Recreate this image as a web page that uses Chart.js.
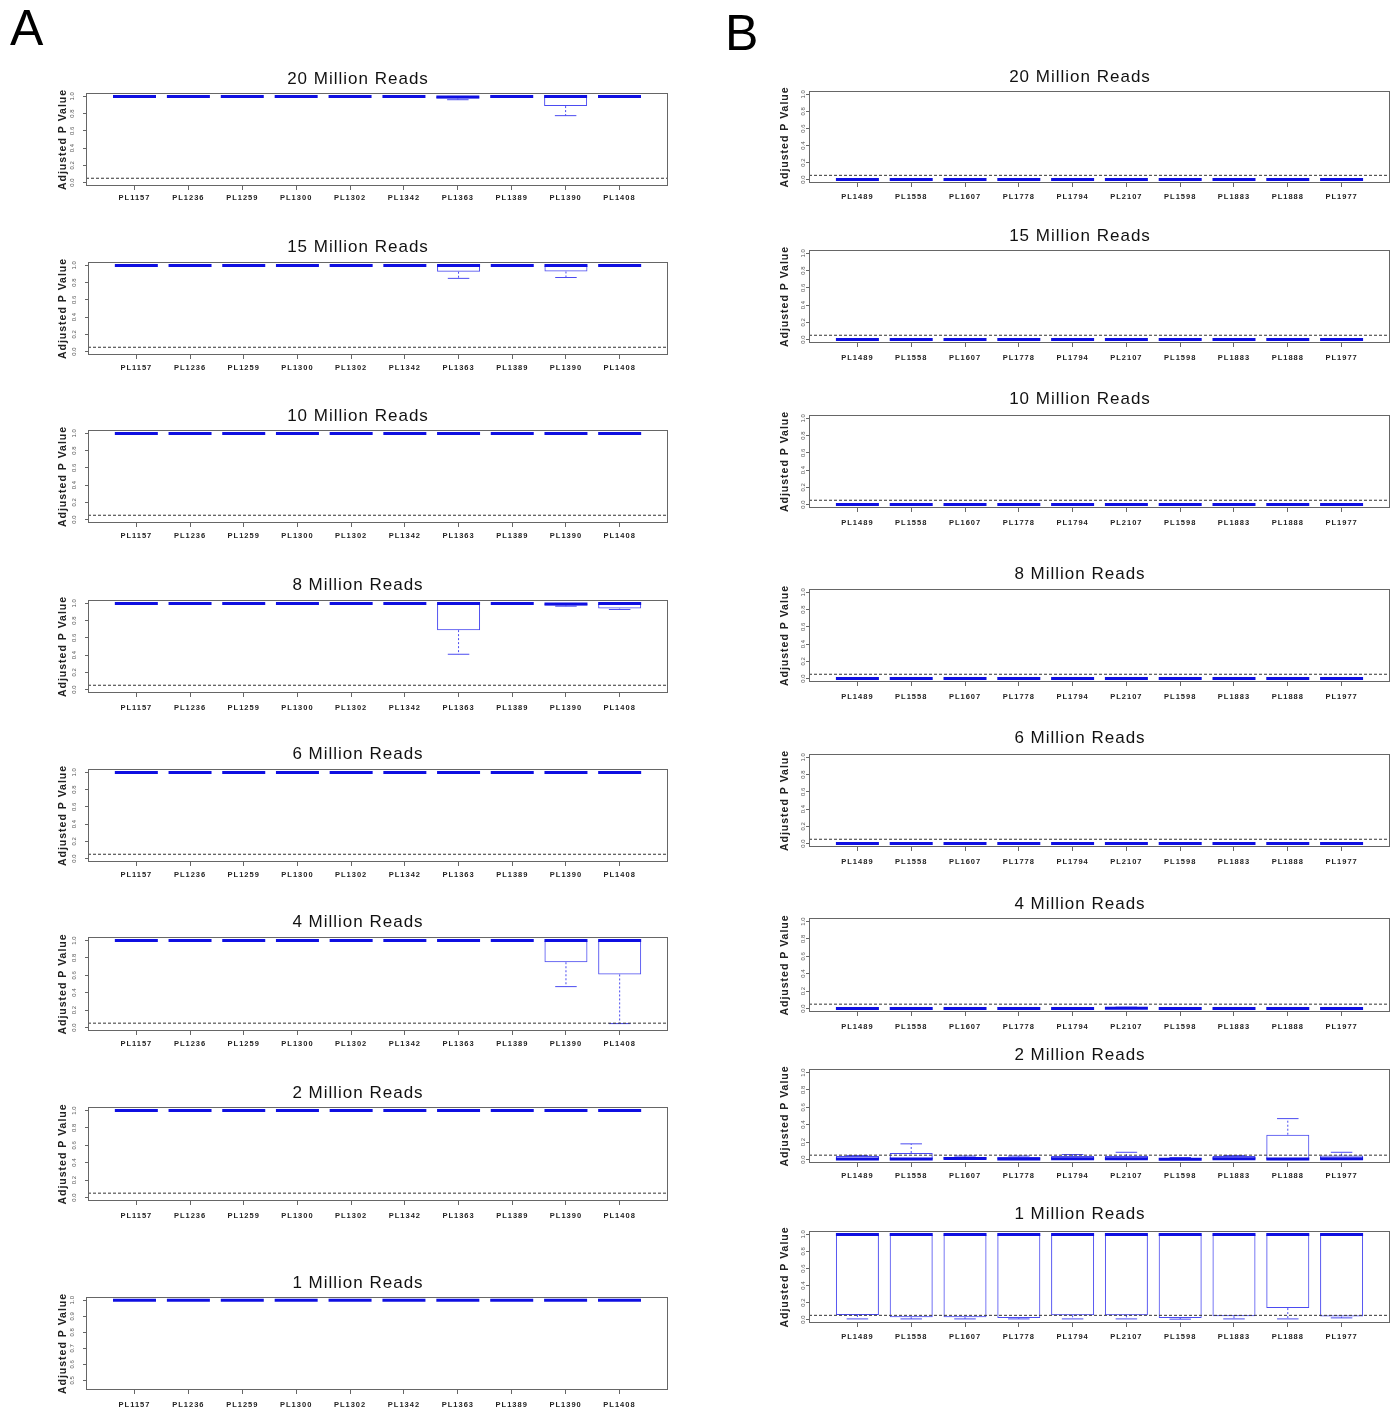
<!DOCTYPE html>
<html><head><meta charset="utf-8">
<script src="https://cdn.jsdelivr.net/npm/chart.js@4.4.1/dist/chart.umd.min.js"></script>
<style>
body{margin:0;background:#fff;width:1398px;height:1410px;position:relative;overflow:hidden}
canvas{position:absolute}
.lbl{position:absolute;font-family:'Liberation Sans',Arial,sans-serif;font-size:50px;line-height:50px;color:#000}
</style>
</head><body>
<div class="lbl" style="left:10px;top:3px">A</div>
<div class="lbl" style="left:725px;top:8px">B</div>
<script>
// ---------- data ----------
const catsA = ['PL1157','PL1236','PL1259','PL1300','PL1302','PL1342','PL1363','PL1389','PL1390','PL1408'];
const catsB = ['PL1489','PL1558','PL1607','PL1778','PL1794','PL2107','PL1598','PL1883','PL1888','PL1977'];
const panelTitles = ['20 Million Reads','15 Million Reads','10 Million Reads','8 Million Reads','6 Million Reads','4 Million Reads','2 Million Reads','1 Million Reads'];
const yTicksStd = [0, 0.2, 0.4, 0.6, 0.8, 1.0];
const yTickLabelsStd = ['0.0','0.2','0.4','0.6','0.8','1.0'];
const yTicksA1M = [0.5, 0.6, 0.7, 0.8, 0.9, 1.0];
const yTickLabelsA1M = ['0.5','0.6','0.7','0.8','0.9','1.0'];
const threshold = 0.05;

// five-number summaries: [lower whisker, Q1, median, Q3, upper whisker]
const A_20M = [[1,1,1,1,1],[1,1,1,1,1],[1,1,1,1,1],[1,1,1,1,1],[1,1,1,1,1],[1,1,1,1,1],[0.962,0.975,0.995,1,1],[1,1,1,1,1],[0.777,0.888,1,1,1],[1,1,1,1,1]];
const A_15M = [[1,1,1,1,1],[1,1,1,1,1],[1,1,1,1,1],[1,1,1,1,1],[1,1,1,1,1],[1,1,1,1,1],[0.85,0.927,1,1,1],[1,1,1,1,1],[0.86,0.93,1,1,1],[1,1,1,1,1]];
const A_10M = [[1,1,1,1,1],[1,1,1,1,1],[1,1,1,1,1],[1,1,1,1,1],[1,1,1,1,1],[1,1,1,1,1],[1,1,1,1,1],[1,1,1,1,1],[1,1,1,1,1],[1,1,1,1,1]];
const A_8M  = [[1,1,1,1,1],[1,1,1,1,1],[1,1,1,1,1],[1,1,1,1,1],[1,1,1,1,1],[1,1,1,1,1],[0.41,0.69,1,1,1],[1,1,1,1,1],[0.968,0.975,0.995,1,1],[0.93,0.94,1,1,1]];
const A_6M  = [[1,1,1,1,1],[1,1,1,1,1],[1,1,1,1,1],[1,1,1,1,1],[1,1,1,1,1],[1,1,1,1,1],[1,1,1,1,1],[1,1,1,1,1],[1,1,1,1,1],[1,1,1,1,1]];
const A_4M  = [[1,1,1,1,1],[1,1,1,1,1],[1,1,1,1,1],[1,1,1,1,1],[1,1,1,1,1],[1,1,1,1,1],[1,1,1,1,1],[1,1,1,1,1],[0.47,0.75,1,1,1],[0.045,0.61,1,1,1]];
const A_2M  = [[1,1,1,1,1],[1,1,1,1,1],[1,1,1,1,1],[1,1,1,1,1],[1,1,1,1,1],[1,1,1,1,1],[1,1,1,1,1],[1,1,1,1,1],[1,1,1,1,1],[1,1,1,1,1]];
const A_1M  = [[1,1,1,1,1],[1,1,1,1,1],[1,1,1,1,1],[1,1,1,1,1],[1,1,1,1,1],[1,1,1,1,1],[1,1,1,1,1],[1,1,1,1,1],[1,1,1,1,1],[1,1,1,1,1]];

const B_20M = [[0,0,0,0,0],[0,0,0,0,0],[0,0,0,0,0],[0,0,0,0,0],[0,0,0,0,0],[0,0,0,0,0],[0,0,0,0,0],[0,0,0,0,0],[0,0,0,0,0],[0,0,0,0,0]];
const B_15M = [[0,0,0,0,0],[0,0,0,0,0],[0,0,0,0,0],[0,0,0,0,0],[0,0,0,0,0],[0,0,0,0,0],[0,0,0,0,0],[0,0,0,0,0],[0,0,0,0,0],[0,0,0,0,0]];
const B_10M = [[0,0,0,0,0],[0,0,0,0,0],[0,0,0,0,0],[0,0,0,0,0],[0,0,0,0,0],[0,0,0,0,0],[0,0,0,0,0],[0,0,0,0,0],[0,0,0,0,0],[0,0,0,0,0]];
const B_8M  = [[0,0,0,0,0],[0,0,0,0,0],[0,0,0,0,0],[0,0,0,0,0],[0,0,0,0,0],[0,0,0,0,0],[0,0,0,0,0],[0,0,0,0,0],[0,0,0,0,0],[0,0,0,0,0]];
const B_6M  = [[0,0,0,0,0],[0,0,0,0,0],[0,0,0,0,0],[0,0,0,0,0],[0,0,0,0,0],[0,0,0,0,0],[0,0,0,0,0],[0,0,0,0,0],[0,0,0,0,0],[0,0,0,0,0]];
const B_4M  = [[0,0,0,0,0],[0,0,0,0,0],[0,0,0,0,0],[0,0,0,0,0],[0,0,0,0,0],[0,0,0.003,0.012,0.015],[0,0,0,0,0],[0,0,0,0,0],[0,0,0,0,0],[0,0,0,0,0]];
const B_2M  = [[0,0,0.005,0.04,0.045],[0,0,0.005,0.075,0.18],[0,0,0.012,0.03,0.04],[0,0,0.005,0.03,0.04],[0,0,0.01,0.04,0.057],[0,0,0.01,0.04,0.083],[0,0,0.003,0.015,0.023],[0,0,0.01,0.04,0.045],[0,0,0.005,0.285,0.47],[0,0,0.01,0.045,0.083]];
const B_1M  = [[0.008,0.054,1,1,1],[0.008,0.028,1,1,1],[0.008,0.028,1,1,1],[0.008,0.02,1,1,1],[0.008,0.05,1,1,1],[0.008,0.05,1,1,1],[0.005,0.02,1,1,1],[0.008,0.04,1,1,1],[0.008,0.135,1,1,1],[0.02,0.035,1,1,1]];

// ---------- layout (pixels) ----------
const colA = {left:48, boxRight:668, yTitleX:63, yLabGap:13.5};
const colB = {left:770, boxRight:1390, yTitleX:785, yLabGap:6};
const rowsA = [
  {title:79, top:93, bottom:186, boxLeft:86, lab:11},
  {title:247, top:262, bottom:355, boxLeft:88, lab:12},
  {title:416, top:430, bottom:523, boxLeft:88, lab:12},
  {title:585, top:600, bottom:693, boxLeft:88, lab:14},
  {title:754, top:769, bottom:862, boxLeft:88, lab:12},
  {title:922, top:937, bottom:1031, boxLeft:88, lab:12},
  {title:1093, top:1107, bottom:1201, boxLeft:88, lab:14},
  {title:1283, top:1297, bottom:1390, boxLeft:86, lab:14}
];
const rowsB = [
  {title:77, top:91, bottom:183, boxLeft:809, lab:13},
  {title:236, top:250, bottom:343, boxLeft:809, lab:14},
  {title:399, top:415, bottom:508, boxLeft:809, lab:14},
  {title:574, top:589, bottom:682, boxLeft:809, lab:14},
  {title:738, top:754, bottom:847, boxLeft:809, lab:14},
  {title:904, top:918, bottom:1012, boxLeft:809, lab:14},
  {title:1055, top:1069, bottom:1163, boxLeft:809, lab:12},
  {title:1214, top:1231, bottom:1323, boxLeft:809, lab:13}
];
const X_MIN = 0.1, X_MAX = 10.9;
const BOX_COLOR = 'rgb(75,75,240)';
const MED_COLOR = 'rgb(15,15,225)';
const FONT = "'Liberation Sans', Arial, sans-serif";

function makePanel(col, row, cats, stats, title, yMin, yMax, yTicks, yTickLabels, showThreshold) {
  const cv = document.createElement('canvas');
  const canvasTop = row.title - 21;
  const W = col.boxRight - col.left + 2;
  const xH = 24;
  const H = row.bottom - canvasTop + xH;
  cv.width = W; cv.height = H;
  cv.style.left = col.left + 'px'; cv.style.top = canvasTop + 'px';
  cv.style.width = W + 'px'; cv.style.height = H + 'px';
  document.body.appendChild(cv);

  const boxes = stats.map((s, i) => ({x: i + 1, y: [s[1], s[3]]}));
  const medians = stats.map((s, i) => ({x: i + 1, y: s[2]}));
  const caps = [];
  const whiskers = [];
  stats.forEach((s, i) => {
    caps.push({x: i + 1, y: s[0]}, {x: i + 1, y: s[4]});
    whiskers.push({x: i + 1, y: s[1]}, {x: i + 1, y: s[0]}, {x: i + 1, y: null},
                  {x: i + 1, y: s[3]}, {x: i + 1, y: s[4]}, {x: i + 1, y: null});
  });
  const datasets = [];
  if (showThreshold) {
    datasets.push({type:'line', data:[{x:X_MIN, y:threshold},{x:X_MAX, y:threshold}],
      borderColor:'#333', borderWidth:1, borderDash:[3,2], pointRadius:0, fill:false});
  }
  datasets.push({type:'line', data:medians, showLine:false, pointStyle:'line',
    pointRadius:21.5, pointBorderWidth:3, pointBorderColor:MED_COLOR, borderColor:MED_COLOR});
  datasets.push({type:'line', data:caps, showLine:false, pointStyle:'line',
    pointRadius:10.75, pointBorderWidth:1, pointBorderColor:BOX_COLOR, borderColor:BOX_COLOR});
  datasets.push({type:'line', data:whiskers, spanGaps:false, borderColor:BOX_COLOR,
    borderWidth:1, borderDash:[2,2], pointRadius:0, fill:false});
  datasets.push({type:'bar', data:boxes, backgroundColor:'rgba(255,255,255,0)',
    borderColor:BOX_COLOR, borderWidth:1, borderSkipped:false, barThickness:43, inflateAmount:0});

  const deco = {
    id:'deco',
    beforeDraw(chart) { chart.ctx.letterSpacing = '1px'; },
    afterDraw(chart) {
      const ctx = chart.ctx, a = chart.chartArea, ys = chart.scales.y;
      ctx.save();
      ctx.strokeStyle = '#666'; ctx.lineWidth = 1;
      ctx.strokeRect(Math.round(a.left) + 0.5, Math.round(a.top) + 0.5,
                     Math.round(a.right - a.left) - 1, Math.round(a.bottom - a.top) - 1);
      ctx.letterSpacing = '0px';
      ctx.font = '6px ' + FONT;
      ctx.fillStyle = '#555';
      ctx.textAlign = 'center'; ctx.textBaseline = 'middle';
      ys.ticks.forEach((t, k) => {
        const py = ys.getPixelForValue(t.value);
        ctx.save();
        ctx.translate(a.left - col.yLabGap, py);
        ctx.rotate(-Math.PI / 2);
        ctx.fillText(yTickLabels[k], 0, 0);
        ctx.restore();
      });
      ctx.restore();
    }
  };

  new Chart(cv, {
    type:'bar',
    data:{datasets},
    plugins:[deco],
    options:{
      responsive:false, animation:false, devicePixelRatio:1, events:[],
      layout:{autoPadding:false, padding:{left:0, right:2, top:0, bottom:0}},
      plugins:{
        legend:{display:false}, tooltip:{enabled:false},
        title:{display:true, text:title, color:'#111',
          font:{family:FONT, size:17, weight:'normal', lineHeight:1.2},
          padding:{top:10.8, bottom:row.top - row.title - 10.2}}
      },
      scales:{
        x:{type:'linear', min:X_MIN, max:X_MAX, offset:false,
          afterBuildTicks:s => { s.ticks = cats.map((c, i) => ({value:i + 1})); },
          afterFit:s => { s.height = xH; s.paddingLeft = 0; s.paddingRight = 0; },
          ticks:{autoSkip:false, maxRotation:0, minRotation:0, color:'#222',
            padding:row.lab - 7.5, font:{family:FONT, size:7.5, weight:'bold'},
            callback:v => cats[Math.round(v) - 1]},
          grid:{display:true, drawOnChartArea:false, drawTicks:true, tickLength:4, color:'#666', offset:false},
          border:{display:false}
        },
        y:{type:'linear', min:yMin, max:yMax,
          afterBuildTicks:s => { s.ticks = yTicks.map(v => ({value:v})); },
          afterFit:s => { s.width = row.boxLeft - col.left; s.paddingTop = 0; s.paddingBottom = 0; },
          ticks:{display:false},
          grid:{display:true, drawOnChartArea:false, drawTicks:true, tickLength:3, color:'#666'},
          border:{display:false},
          title:{display:true, text:'Adjusted P Value', color:'#222',
            font:{family:FONT, size:10.5, weight:'bold', lineHeight:1.2},
            padding:{top:col.yTitleX - col.left - 6.3, bottom:0}}
        }
      }
    }
  });
}

const statsA = [A_20M, A_15M, A_10M, A_8M, A_6M, A_4M, A_2M, A_1M];
const statsB = [B_20M, B_15M, B_10M, B_8M, B_6M, B_4M, B_2M, B_1M];
statsA.forEach((st, k) => {
  const last = k === statsA.length - 1;
  makePanel(colA, rowsA[k], catsA, st, panelTitles[k],
    last ? 0.44 : -0.04, last ? 1.02 : 1.04,
    last ? yTicksA1M : yTicksStd, last ? yTickLabelsA1M : yTickLabelsStd, !last);
});
statsB.forEach((st, k) => {
  makePanel(colB, rowsB[k], catsB, st, panelTitles[k], -0.04, 1.04, yTicksStd, yTickLabelsStd, true);
});
</script>
</body></html>
